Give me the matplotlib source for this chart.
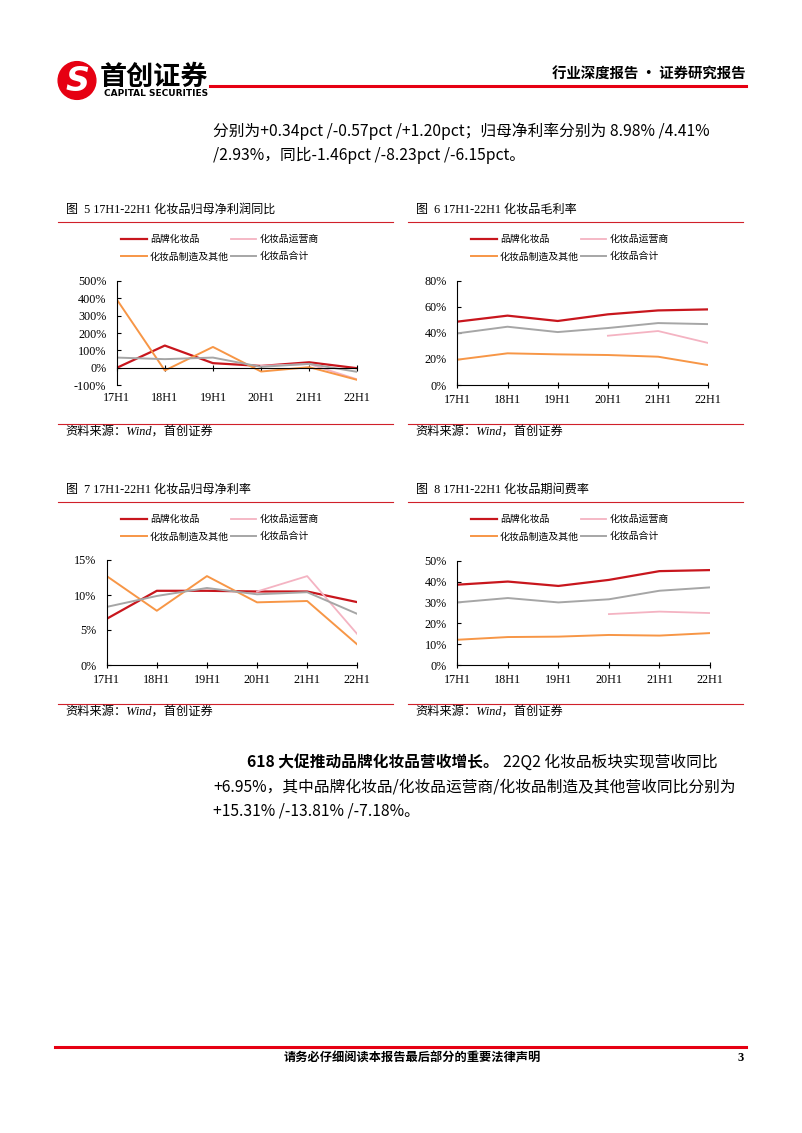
import numpy as np
import matplotlib.pyplot as plt
from matplotlib.lines import Line2D
from matplotlib.patches import Circle

plt.rcParams.update({
    "font.family": ["Noto Sans CJK SC", "DejaVu Sans"],
    "axes.unicode_minus": False,
})

W, H = 802, 1133
RED = "#C8161D"
PINK = "#F4B3C2"
ORANGE = "#F79646"
GRAY = "#A6A6A6"
LINE_RED = "#D0202A"
SERIF = ["Liberation Serif", "Noto Sans CJK SC"]

periods = ["17H1", "18H1", "19H1", "20H1", "21H1", "22H1"]
series_names = ["品牌化妆品", "化妆品运营商", "化妆品制造及其他", "化妆品合计"]
nan = np.nan

# 图5 归母净利润同比（%）
yoy_brand = [0, 128, 27, 11, 32, -2]
yoy_operator = [nan, nan, nan, 12, 22, -66]
yoy_manuf = [393, -15, 120, -21, 4, -69]
yoy_total = [59, 50, 59, 6, 23, -23]

# 图6 毛利率（%）
gm_brand = [48.6, 53.2, 49.1, 54.2, 57.2, 58.0]
gm_operator = [nan, nan, nan, 37.8, 41.4, 32.2]
gm_manuf = [19.4, 24.3, 23.5, 23.0, 21.7, 15.3]
gm_total = [39.6, 44.7, 40.6, 43.7, 47.5, 46.7]

# 图7 归母净利率（%）
nm_brand = [6.6, 10.6, 10.6, 10.5, 10.5, 8.98]
nm_operator = [nan, nan, nan, 10.5, 12.7, 4.41]
nm_manuf = [12.7, 7.75, 12.7, 8.95, 9.14, 2.93]
nm_total = [8.3, 9.86, 11.0, 10.1, 10.4, 7.3]

# 图8 期间费用率（%）
exp_brand = [38.5, 40.0, 37.9, 40.8, 45.0, 45.5]
exp_operator = [nan, nan, nan, 24.4, 25.6, 24.9]
exp_manuf = [12.1, 13.4, 13.6, 14.4, 14.1, 15.3]
exp_total = [30.0, 32.1, 30.0, 31.5, 35.6, 37.2]

para1 = ["分别为+0.34pct /-0.57pct /+1.20pct；归母净利率分别为 8.98% /4.41%",
         "/2.93%，同比-1.46pct /-8.23pct /-6.15pct。"]
para2_bold = "618 大促推动品牌化妆品营收增长。"
para2 = ["22Q2 化妆品板块实现营收同比",
         "+6.95%，其中品牌化妆品/化妆品运营商/化妆品制造及其他营收同比分别为",
         "+15.31% /-13.81% /-7.18%。"]
BODY = 11.3

fig = plt.figure(figsize=(W / 100, H / 100), dpi=100)


def fx(px):
    return px / W


def fy(py):
    return 1 - py / H


def hline(x0, x1, y, color=LINE_RED, lw=0.8):
    fig.add_artist(Line2D([fx(x0), fx(x1)], [fy(y), fy(y)], color=color, lw=lw))


def chart(box, panel_left, top, title, data, ylim, yticks, zero_axis=False):
    left, atop, right, bottom = box
    ax = fig.add_axes([fx(left), fy(bottom), fx(right) - fx(left), fy(atop) - fy(bottom)])
    x = np.arange(len(periods))
    colors = [RED, PINK, ORANGE, GRAY]
    widths = [1.6, 1.3, 1.4, 1.4]
    handles = []
    for vals, name, c, w in zip(data, series_names, colors, widths):
        h, = ax.plot(x, vals, color=c, lw=w, label=name)
        handles.append(h)
    ax.set_xlim(0, len(periods) - 1)
    ax.set_ylim(*ylim)
    ax.set_yticks(yticks)
    ax.set_yticklabels([f"{v:.0f}%" for v in yticks], family=SERIF, fontsize=8.7)
    ax.tick_params(axis="y", direction="in", length=3, pad=7.5, width=0.8)
    for s in ["top", "right"]:
        ax.spines[s].set_visible(False)
    for s in ["left", "bottom"]:
        ax.spines[s].set_linewidth(0.8)
    ax.set_xticks(x)
    if zero_axis:
        ax.spines["bottom"].set_position(("data", 0))
        ax.tick_params(axis="x", direction="inout", length=5, width=0.8, labelbottom=False)
        sec = ax.secondary_xaxis("bottom")
        sec.spines["bottom"].set_visible(False)
        sec.set_xticks(x, labels=periods)
        sec.tick_params(length=0, pad=5)
        for t in sec.get_xticklabels():
            t.set_family(SERIF)
            t.set_fontsize(8.7)
    else:
        ax.set_xticklabels(periods, family=SERIF, fontsize=8.7)
        ax.tick_params(axis="x", direction="inout", length=5, width=0.8, pad=4)

    # title, rules, legend and source
    fig.text(fx(panel_left + 8), fy(top), title, family=SERIF, fontsize=8.7, va="center")
    hline(panel_left, panel_left + 335, top + 12)
    order = [0, 2, 1, 3]
    ax.legend([handles[i] for i in order], [series_names[i] for i in order],
              ncol=2, frameon=False, loc="upper left",
              bbox_to_anchor=(fx(panel_left + 63), fy(top + 24)),
              bbox_transform=fig.transFigure, fontsize=7.1, borderpad=0,
              handlelength=2.6, handletextpad=0.35, columnspacing=0.15,
              labelspacing=0.75, borderaxespad=0)
    hline(panel_left, panel_left + 335, top + 214)
    fig.text(fx(panel_left + 7), fy(top + 223), "资料来源：Wind，首创证券",
             family=SERIF, style="italic", fontsize=8.8, va="center")
    return ax


# ---- header ----
logo = fig.add_axes([fx(56), fy(101), fx(98) - fx(56), fy(60) - fy(101)])
logo.set_xlim(-1, 1)
logo.set_ylim(-1, 1)
logo.set_aspect("equal")
logo.axis("off")
logo.add_patch(Circle((0, 0), 0.92, color="#E60012"))
logo.text(0.02, -0.05, "S", color="white", fontsize=24, fontweight="bold",
          style="italic", ha="center", va="center", family="DejaVu Sans")
fig.text(fx(100), fy(77), "首创证券", fontsize=19.5, fontweight="bold", va="center")
fig.text(fx(104), fy(94), "CAPITAL SECURITIES", fontsize=6.5, fontweight="bold",
         va="center", family="DejaVu Sans")
hline(210, 746, 86, color="#E60012", lw=2.2)
fig.text(fx(745), fy(75), "行业深度报告 · 证券研究报告", fontsize=10.4,
         fontweight="bold", ha="right", va="center")

# ---- paragraph 1 ----
for i, line in enumerate(para1):
    fig.text(fx(213), fy(131 + 24 * i), line, fontsize=BODY, va="center")

# ---- charts ----
chart((116.7, 280.7, 357.3, 385.3), 58, 210, "图  5 17H1-22H1 化妆品归母净利润同比",
      [yoy_brand, yoy_operator, yoy_manuf, yoy_total], (-100, 500),
      [-100, 0, 100, 200, 300, 400, 500], zero_axis=True)
chart((457.3, 280.7, 708.3, 385.0), 408, 210, "图  6 17H1-22H1 化妆品毛利率",
      [gm_brand, gm_operator, gm_manuf, gm_total], (0, 80), [0, 20, 40, 60, 80])
chart((106.7, 560.0, 357.3, 665.0), 58, 490, "图  7 17H1-22H1 化妆品归母净利率",
      [nm_brand, nm_operator, nm_manuf, nm_total], (0, 15), [0, 5, 10, 15])
chart((457.3, 560.7, 710.0, 665.0), 408, 490, "图  8 17H1-22H1 化妆品期间费率",
      [exp_brand, exp_operator, exp_manuf, exp_total], (0, 50), [0, 10, 20, 30, 40, 50])

# ---- paragraph 2 ----
t_bold = fig.text(fx(247), fy(762), para2_bold, fontsize=BODY, fontweight="bold", va="center")
fig.canvas.draw()
bb = t_bold.get_window_extent()
fig.text(bb.x1 / fig.bbox.width + fx(4), fy(762), para2[0], fontsize=BODY, va="center")
for i, line in enumerate(para2[1:]):
    fig.text(fx(213), fy(787 + 24 * i), line, fontsize=BODY, va="center")

# ---- footer ----
hline(55, 746, 1047, color="#E60012", lw=2.2)
fig.text(fx(412), fy(1058), "请务必仔细阅读本报告最后部分的重要法律声明", fontsize=8.8,
         fontweight="bold", ha="center", va="center")
fig.text(fx(744), fy(1058), "3", fontsize=9, fontweight="bold", ha="right",
         va="center", family="Liberation Serif")

fig.savefig("out.png", dpi=100)
